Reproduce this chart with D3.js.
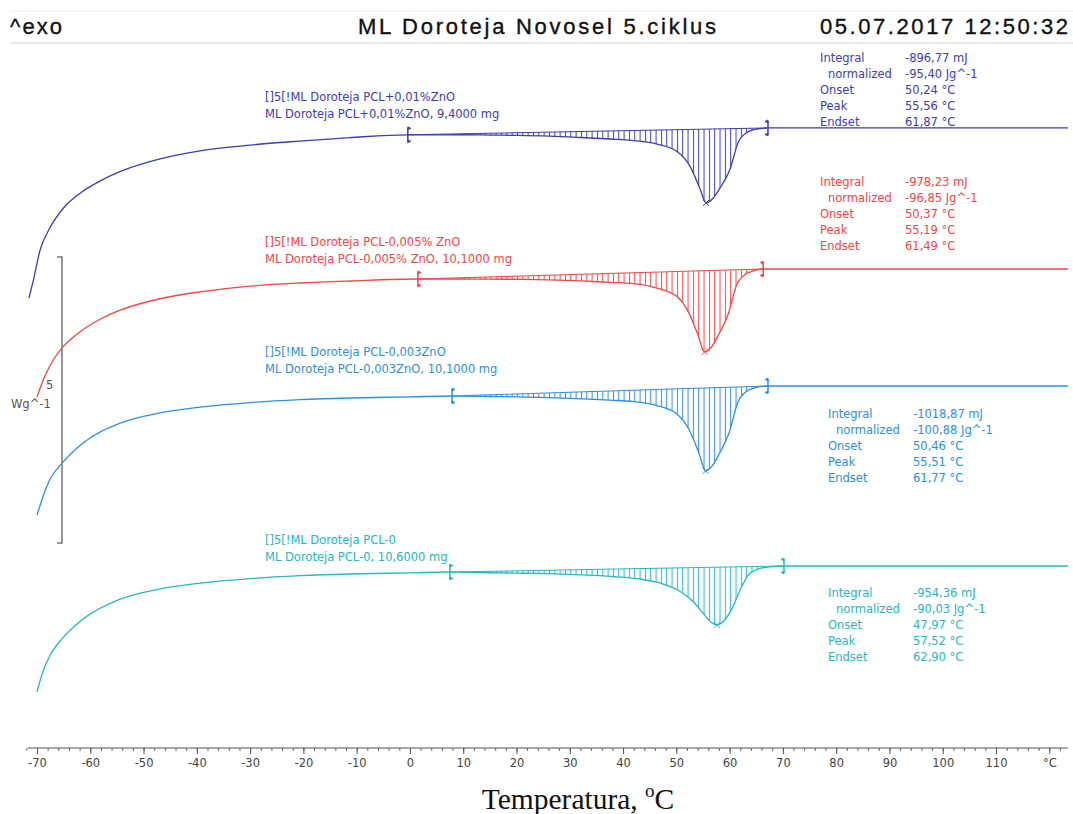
<!DOCTYPE html>
<html>
<head>
<meta charset="utf-8">
<script src="https://cdn.jsdelivr.net/npm/d3@7"></script>
<style>
  html, body { margin: 0; padding: 0; background: #fff; }
  svg { display: block; }
</style>
</head>
<body>
<div id="chart"></div>
<script>
// ========================================
// DATA
// ========================================
// temperature in °C, heat flow in W/g relative to each curve's flat level (exo up)
const curvePCL001 = [[-71.5,-2.97],[-70.8,-2.71],[-69.4,-2.13],[-67.6,-1.75],[-65.3,-1.43],[-61.9,-1.14],[-58.2,-0.93],[-52.6,-0.70],[-46.9,-0.54],[-39.4,-0.40],[-30,-0.30],[-20.6,-0.23],[-11.3,-0.17],[-0.4,-0.12],[5,-0.12],[10,-0.119],[15,-0.125],[20,-0.130],[26,-0.143],[32,-0.167],[37.5,-0.193],[42,-0.22],[46.4,-0.282],[50.2,-0.415],[52.6,-0.676],[54.4,-1.053],[55.6,-1.311],[56.8,-1.238],[58.1,-1.066],[60.1,-0.713],[61.6,-0.255],[63.3,-0.077],[65.1,-0.021],[67.2,0],[80,0],[100,0],[123.5,0]];
const curvePCL0005 = [[-70,-2.24],[-69,-1.98],[-68,-1.77],[-67,-1.60],[-65.3,-1.38],[-63,-1.175],[-61,-1.035],[-58,-0.87],[-54.4,-0.72],[-50,-0.59],[-46.9,-0.52],[-43,-0.45],[-39.4,-0.40],[-30,-0.30],[-20.6,-0.245],[-11.3,-0.21],[1.5,-0.175],[5,-0.176],[10,-0.175],[15,-0.178],[20,-0.180],[26,-0.189],[32,-0.208],[37.3,-0.233],[42,-0.256],[46,-0.325],[50,-0.474],[52.3,-0.758],[54.1,-1.163],[55.3,-1.45],[56.5,-1.376],[57.8,-1.173],[59.8,-0.768],[61.3,-0.284],[63,-0.089],[64.8,-0.024],[66.3,0],[80,0],[100,0],[123.5,0]];
const curvePCL0003 = [[-70,-2.26],[-68.9,-1.94],[-67.6,-1.64],[-65.3,-1.35],[-61.4,-1.00],[-54.4,-0.65],[-46.9,-0.47],[-39.4,-0.37],[-30,-0.29],[-20.6,-0.24],[-11.3,-0.21],[0,-0.19],[7.9,-0.175],[10,-0.179],[15,-0.184],[20,-0.189],[26,-0.202],[32,-0.224],[37.5,-0.248],[42,-0.274],[46.3,-0.342],[50.1,-0.49],[52.5,-0.783],[54.3,-1.188],[55.5,-1.485],[56.7,-1.401],[58,-1.197],[60,-0.791],[61.5,-0.297],[63.2,-0.092],[65,-0.026],[67.2,0],[80,0],[100,0],[123.5,0]];
const curvePCL0 = [[-70,-2.20],[-68.9,-1.85],[-67.6,-1.57],[-65.3,-1.27],[-61.4,-0.93],[-54.4,-0.58],[-46.9,-0.40],[-39.4,-0.30],[-30,-0.22],[-20.6,-0.17],[-11.3,-0.14],[0,-0.12],[7.5,-0.105],[10,-0.111],[15,-0.118],[20,-0.124],[26,-0.134],[32,-0.154],[38,-0.184],[43,-0.226],[47,-0.299],[50.5,-0.433],[53,-0.609],[55,-0.825],[56.5,-0.983],[57.6,-1.031],[58.8,-0.969],[60.5,-0.736],[62,-0.414],[63.5,-0.161],[65.5,-0.048],[67.5,-0.015],[70.2,0],[80,0],[100,0],[123.5,0]];

const curveOffsets = [10.84, 8.374, 6.329, 3.182];         // W/g, vertical shift of each curve
const integrationLimits = [[-0.4, 67.2], [1.5, 66.3], [7.9, 67.2], [7.5, 70.2]];

const sampleIds = ['[]5[!ML Doroteja PCL+0,01%ZnO', '[]5[!ML Doroteja PCL-0,005% ZnO', '[]5[!ML Doroteja PCL-0,003ZnO', '[]5[!ML Doroteja PCL-0'];
const sampleNames = ['ML Doroteja PCL+0,01%ZnO, 9,4000 mg', 'ML Doroteja PCL-0,005% ZnO, 10,1000 mg', 'ML Doroteja PCL-0,003ZnO, 10,1000 mg', 'ML Doroteja PCL-0, 10,6000 mg'];

const resultLabels = ['Integral', 'normalized', 'Onset', 'Peak', 'Endset'];
const integrals = ['-896,77 mJ', '-978,23 mJ', '-1018,87 mJ', '-954,36 mJ'];
const normalized = ['-95,40 Jg^-1', '-96,85 Jg^-1', '-100,88 Jg^-1', '-90,03 Jg^-1'];
const onsets = ['50,24 °C', '50,37 °C', '50,46 °C', '47,97 °C'];
const peaks = ['55,56 °C', '55,19 °C', '55,51 °C', '57,52 °C'];
const endsets = ['61,87 °C', '61,49 °C', '61,77 °C', '62,90 °C'];

const tempTicks = d3.range(-70, 121, 10);
const minorTicks = d3.range(-72, 123, 2);

// ========================================
// LAYOUT / STYLE
// ========================================
const W = 1073, H = 814;
const colors = ['#3d3db6', '#f54545', '#2e8fe2', '#22b9c2'];
const labelPos = [{x: 265, y: 101}, {x: 265, y: 246}, {x: 265, y: 356}, {x: 265, y: 544}];
const resultPos = [{x: 820, vx: 905, y: 62}, {x: 820, vx: 905, y: 186}, {x: 828, vx: 913, y: 418}, {x: 828, vx: 913, y: 597}];
const smallFont = '"DejaVu Sans", Verdana, sans-serif';

const svg = d3.select('#chart').append('svg').attr('width', W).attr('height', H);

const x = d3.scaleLinear().domain([-70, 110]).range([37, 996]);
const y = d3.scaleLinear().domain([0, 12.29]).range([748, 45]);

// Header
svg.append('line').attr('x1', 10).attr('x2', W).attr('y1', 11).attr('y2', 11).attr('stroke', '#ececec');
svg.append('line').attr('x1', 10).attr('x2', W).attr('y1', 43).attr('y2', 43).attr('stroke', '#d2d2d2');
const header = svg.append('g').attr('font-family', '"Liberation Sans", Arial, sans-serif').attr('font-size', 22)
    .attr('fill', '#111').attr('stroke', '#111').attr('stroke-width', 0.35);
header.append('text').attr('x', 10).attr('y', 34).attr('textLength', 52).attr('lengthAdjust', 'spacing').text('^exo');
header.append('text').attr('x', 358).attr('y', 34).attr('textLength', 358).attr('lengthAdjust', 'spacing').text('ML Doroteja Novosel 5.ciklus');
header.append('text').attr('x', 820).attr('y', 34).attr('textLength', 248).attr('lengthAdjust', 'spacing').text('05.07.2017 12:50:32');

// Hatch patterns
const defs = svg.append('defs');
colors.forEach((c, i) => {
    const p = defs.append('pattern').attr('id', 'hatch' + i)
        .attr('patternUnits', 'userSpaceOnUse').attr('width', 5.33).attr('height', 10);
    p.append('line').attr('x1', 0.5).attr('x2', 0.5).attr('y1', 0).attr('y2', 10)
        .attr('stroke', c).attr('stroke-width', 1);
});

function valueAt(curve, t) {
    for (let i = 1; i < curve.length; i++) {
        if (curve[i][0] >= t) {
            const [t0, v0] = curve[i - 1], [t1, v1] = curve[i];
            return v0 + (v1 - v0) * (t - t0) / (t1 - t0);
        }
    }
    return curve[curve.length - 1][1];
}

const curves = [curvePCL001, curvePCL0005, curvePCL0003, curvePCL0];

curves.forEach((curve, i) => {
    const off = curveOffsets[i];
    const col = colors[i];
    const [tl, tr] = integrationLimits[i];
    const vl = valueAt(curve, tl), vr = valueAt(curve, tr);
    const base = d3.scaleLinear().domain([tl, tr]).range([vl, vr]);
    const g = svg.append('g');

    // hatched peak area between curve and integration baseline
    const inside = curve.filter(d => d[0] >= tl && d[0] <= tr);
    g.append('path').datum(inside)
        .attr('fill', `url(#hatch${i})`)
        .attr('d', d3.area().curve(d3.curveMonotoneX)
            .x(d => x(d[0]))
            .y0(d => y(base(d[0]) + off))
            .y1(d => y(d[1] + off)));

    g.append('line')
        .attr('x1', x(tl)).attr('y1', y(vl + off))
        .attr('x2', x(tr)).attr('y2', y(vr + off))
        .attr('stroke', col).attr('stroke-width', 1);

    g.append('path').datum(curve)
        .attr('fill', 'none').attr('stroke', col).attr('stroke-width', 1.3)
        .attr('d', d3.line().curve(d3.curveMonotoneX)
            .x(d => x(d[0])).y(d => y(d[1] + off)));

    // integration limit markers
    [[tl, vl, 1], [tr, vr, -1]].forEach(([t, v, dir]) => {
        const mx = x(t), my = y(v + off);
        g.append('path')
            .attr('d', `M${mx},${my - 7}L${mx},${my + 7}`)
            .attr('stroke', col).attr('stroke-width', 1.5);
        g.append('path')
            .attr('d', `M${mx},${my - 8}l${dir * 3},1.5l${-dir * 3},1.5Z M${mx},${my + 8}l${dir * 3},-1.5l${-dir * 3},-1.5Z`)
            .attr('fill', col).attr('stroke', col).attr('stroke-width', 0.8);
    });

    // peak cross (deepest point inside the integration range)
    const pk = d3.least(inside, (a, b) => a[1] - b[1]);
    const px = x(pk[0]), py = y(pk[1] + off);
    g.append('path').attr('d', `M${px - 3},${py - 3}L${px + 3},${py + 3}M${px + 3},${py - 3}L${px - 3},${py + 3}`)
        .attr('stroke', col).attr('stroke-width', 1);

    // sample labels
    const lab = svg.append('g').attr('font-family', smallFont).attr('font-size', 11.5).attr('fill', col);
    lab.append('text').attr('x', labelPos[i].x).attr('y', labelPos[i].y).text(sampleIds[i]);
    lab.append('text').attr('x', labelPos[i].x).attr('y', labelPos[i].y + 17).text(sampleNames[i]);

    // results table
    const vals = [integrals[i], normalized[i], onsets[i], peaks[i], endsets[i]];
    const rp = resultPos[i];
    resultLabels.forEach((l, k) => {
        lab.append('text').attr('x', rp.x + (k === 1 ? 8 : 0)).attr('y', rp.y + k * 15.9).text(l);
        lab.append('text').attr('x', rp.vx).attr('y', rp.y + k * 15.9).text(vals[k]);
    });
});

// Scale bar (5 W/g)
const sb = svg.append('g').attr('stroke', '#777').attr('stroke-width', 1.5).attr('fill', 'none');
sb.append('path').attr('d', `M57,${y(3.584)}H62V${y(8.584)}H57`);
svg.append('text').attr('x', 46).attr('y', 389).attr('font-family', smallFont).attr('font-size', 11.5).attr('fill', '#555').text('5');
svg.append('text').attr('x', 11).attr('y', 408).attr('font-family', smallFont).attr('font-size', 11.5).attr('fill', '#555').text('Wg^-1');

// Temperature axis
const axisG = svg.append('g').attr('transform', 'translate(0,748)');
axisG.append('line').attr('x1', x(-71.7)).attr('x2', x(123.5)).attr('stroke', '#555').attr('stroke-width', 1.2);
axisG.append('g')
    .call(d3.axisBottom(x).tickValues(minorTicks).tickSize(3).tickFormat(''))
    .call(a => a.select('.domain').remove())
    .call(a => a.selectAll('line').attr('stroke', '#666'));
axisG.append('g')
    .call(d3.axisBottom(x).tickValues(tempTicks).tickSize(6).tickPadding(5)
        .tickFormat(d => d === 120 ? '°C' : d))
    .call(a => a.select('.domain').remove())
    .call(a => a.selectAll('line').attr('stroke', '#555'))
    .call(a => a.selectAll('text').attr('font-family', smallFont).attr('font-size', 11.5).attr('fill', '#444'));

const xl = svg.append('text').attr('x', 578).attr('y', 809).attr('text-anchor', 'middle')
    .attr('font-family', '"Liberation Serif", "Times New Roman", serif').attr('font-size', 29.5).attr('fill', '#111');
xl.append('tspan').text('Temperatura, ');
xl.append('tspan').attr('font-size', 19).attr('dy', -12).text('o');
xl.append('tspan').attr('dy', 12).text('C');
</script>
</body>
</html>
